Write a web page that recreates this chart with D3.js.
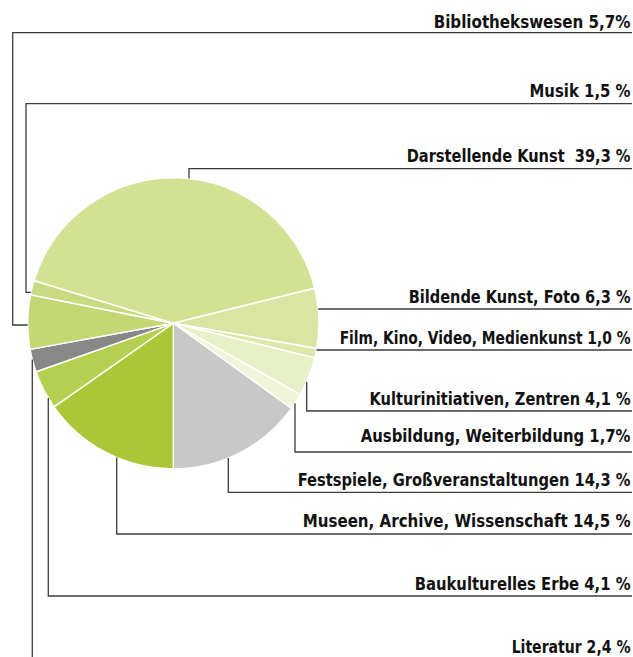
<!DOCTYPE html>
<html>
<head>
<meta charset="utf-8">
<script src="https://cdn.jsdelivr.net/npm/d3@7"></script>
<style>
  html, body { margin: 0; padding: 0; background: #fff; }
  svg { display: block; }
  .lbl { font-family: "Liberation Sans Narrow", "DejaVu Sans Condensed", "Roboto", sans-serif; font-weight: bold; font-size: 18.5px; fill: #111; }
</style>
</head>
<body>
<svg id="chart" width="633" height="657"></svg>
<script>
// ---- data ----
const categories = [
  "Darstellende Kunst", "Bildende Kunst, Foto", "Film, Kino, Video, Medienkunst",
  "Kulturinitiativen, Zentren", "Ausbildung, Weiterbildung", "Festspiele, Großveranstaltungen",
  "Museen, Archive, Wissenschaft", "Baukulturelles Erbe", "Literatur",
  "Bibliothekswesen", "Musik"
];
const values = [39.3, 6.3, 1.0, 4.1, 1.7, 14.3, 14.5, 4.1, 2.4, 5.7, 1.5];
const labels = [
  "Darstellende Kunst  39,3 %", "Bildende Kunst, Foto 6,3 %", "Film, Kino, Video, Medienkunst 1,0 %",
  "Kulturinitiativen, Zentren 4,1 %", "Ausbildung, Weiterbildung 1,7%", "Festspiele, Großveranstaltungen 14,3 %",
  "Museen, Archive, Wissenschaft 14,5 %", "Baukulturelles Erbe 4,1 %", "Literatur 2,4 %",
  "Bibliothekswesen 5,7%", "Musik 1,5 %"
];
const colors = [
  "#d3e192", "#dbe5a3", "#dee8ab", "#e8f0c8", "#f0f5da", "#c8c8c8",
  "#abc738", "#b5cf50", "#888888", "#c3d874", "#c9db80"
];

// ---- layout (label / connector placement) ----
const layout = [
  {type: "v",  x: 189,   lineY: 168.7, textY: 162.3, w: 224},
  {type: "h",            lineY: 309,   textY: 303.3, w: 222},
  {type: "h",            lineY: 350,   textY: 343.5, w: 291},
  {type: "v",  x: 306.7, lineY: 411,   textY: 405,   w: 261},
  {type: "v",  x: 295,   lineY: 452,   textY: 441.7, w: 270},
  {type: "v",  x: 228.3, lineY: 492.3, textY: 485.7, w: 333},
  {type: "v",  x: 116.7, lineY: 534,   textY: 526.7, w: 328},
  {type: "v",  x: 48.3,  lineY: 596,   textY: 590,   w: 216},
  {type: "v",  x: 32.3,  lineY: 664,   textY: 653.3, w: 119},
  {type: "hv", x: 12.7,  attachY: 325,   lineY: 32.7,  textY: 28.3, w: 197},
  {type: "hv", x: 26,    attachY: 292.3, lineY: 103.7, textY: 97.3, w: 101}
];

const cx = 173.3, cy = 323.3, r = 145.6;
const rightX = 632, textRight = 630.5;

const svg = d3.select("#chart");
svg.append("rect").attr("width", 633).attr("height", 657).attr("fill", "#fff");

// start so that the Festspiele/Museen boundary points straight down
const total = d3.sum(values);
const before = d3.sum(values.slice(0, 6));
const start = Math.PI - 2 * Math.PI * before / total;

const pie = d3.pie().sort(null).value(d => d).startAngle(start).endAngle(start + 2 * Math.PI);
const arc = d3.arc().innerRadius(0).outerRadius(r);

const g = svg.append("g").attr("transform", `translate(${cx},${cy})`);
g.selectAll("path")
  .data(pie(values))
  .join("path")
  .attr("d", arc)
  .attr("fill", (d, i) => colors[i])
  .attr("stroke", "#ffffff")
  .attr("stroke-width", 1.4)
  .attr("stroke-linejoin", "round");

// connectors
const conn = svg.append("g").attr("fill", "none").attr("stroke", "#3c3c3c").attr("stroke-width", 1.3);
layout.forEach((L, i) => {
  const p = d3.path();
  if (L.type === "v") {
    const dy = Math.sqrt(r * r - (L.x - cx) * (L.x - cx));
    const yEdge = L.lineY < cy ? cy - dy : cy + dy;
    p.moveTo(L.x, yEdge);
    p.lineTo(L.x, L.lineY);
    p.lineTo(rightX, L.lineY);
  } else if (L.type === "h") {
    const dx = Math.sqrt(r * r - (L.lineY - cy) * (L.lineY - cy));
    p.moveTo(cx + dx, L.lineY);
    p.lineTo(rightX, L.lineY);
  } else {
    const dx = Math.sqrt(r * r - (L.attachY - cy) * (L.attachY - cy));
    p.moveTo(cx - dx, L.attachY);
    p.lineTo(L.x, L.attachY);
    p.lineTo(L.x, L.lineY);
    p.lineTo(rightX, L.lineY);
  }
  conn.append("path").attr("d", p.toString());
});

// labels: right-aligned, horizontally condensed to the width seen in the picture
const lg = svg.append("g").selectAll("g")
  .data(labels)
  .join("g");
lg.each(function(d, i) {
  const grp = d3.select(this);
  const t = grp.append("text")
    .attr("class", "lbl")
    .attr("x", 0)
    .attr("y", 0)
    .attr("text-anchor", "end")
    .style("white-space", "pre")
    .text(d);
  const natural = t.node().getComputedTextLength();
  const sx = natural > 0 ? layout[i].w / natural : 1;
  grp.attr("transform", `translate(${textRight},${layout[i].textY}) scale(${sx},1)`);
});
</script>
</body>
</html>
